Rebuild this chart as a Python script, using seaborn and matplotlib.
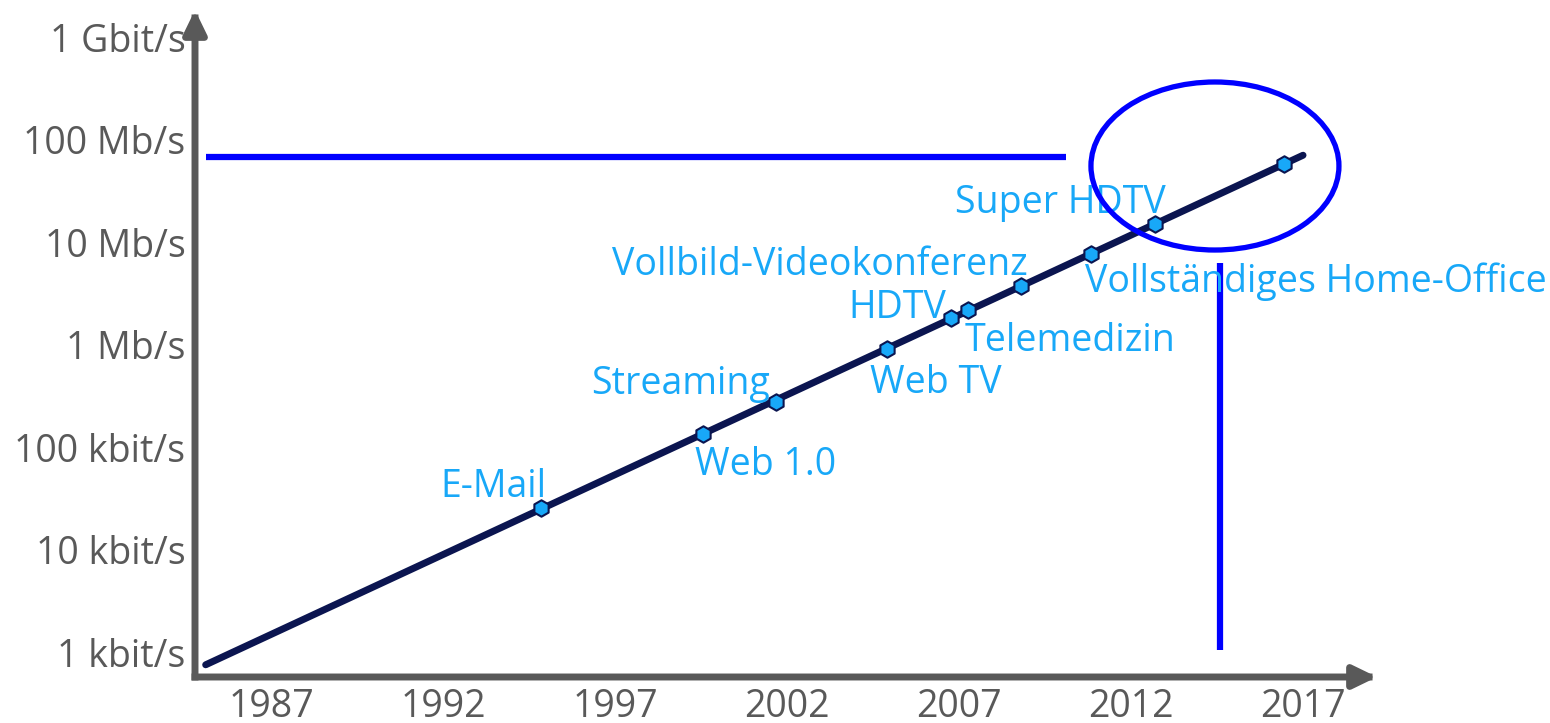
import matplotlib
matplotlib.use("Agg")
import matplotlib.pyplot as plt
from matplotlib.patches import Ellipse
import seaborn as sns
import pandas as pd

# ---- data ----
line_years = [1985.1, 2017.0]
line_rates = [0.75, 71000]          # kbit/s

milestone_years = [1994.85, 1999.56, 2001.68, 2004.91, 2006.77, 2007.26,
                   2008.80, 2010.84, 2012.70, 2016.45]
milestone_rates = [25.5, 135, 276, 910, 1830, 2190, 3750, 7700, 15100, 58300]
milestone_labels = ["E-Mail", "Web 1.0", "Streaming", "Web TV", "HDTV",
                    "Telemedizin", "Vollbild-Videokonferenz",
                    "Vollständiges Home-Office", "Super HDTV", ""]

x_ticks = [1987, 1992, 1997, 2002, 2007, 2012, 2017]
y_ticks = [1, 10, 100, 1e3, 1e4, 1e5, 1e6]
y_tick_labels = ["1 kbit/s", "10 kbit/s", "100 kbit/s", "1 Mb/s",
                 "10 Mb/s", "100 Mb/s", "1 Gbit/s"]

hline_years = [1985.1, 2010.1]
hline_rate = 68000
vline_year = 2014.6
vline_rates = [1.05, 6300]

# label offsets (pixels) from each point: left edge / vertical centre
label_offsets = [(-101, 21), (-8, -31), (-185, 18), (-17, -34), (-103, 10),
                 (-3, -31), (-409, 21), (-6, -28), (-200, 21), (0, 0)]

# ---- style ----
sns.set_theme(style="white")
plt.rcParams["font.family"] = ["Open Sans", "DejaVu Sans"]

AXIS_C = "#595959"
NAVY = "#0b1550"
LIGHT = "#18a8f8"
BLUE = "#0000ff"

fig = plt.figure(figsize=(15.5, 7.23), dpi=100)
W, H = 1550, 723
left, right, top, bottom = 195, 1377, 10, 677
ax = fig.add_axes([left / W, (H - bottom) / H, (right - left) / W, (bottom - top) / H])

df_line = pd.DataFrame({"year": line_years, "rate": line_rates})
df_pts = pd.DataFrame({"year": milestone_years, "rate": milestone_rates})

sns.lineplot(data=df_line, x="year", y="rate", ax=ax, color=NAVY, lw=5,
             solid_capstyle="round", zorder=3)
sns.scatterplot(data=df_pts, x="year", y="rate", ax=ax, marker="h", s=140,
                color=LIGHT, edgecolor=NAVY, linewidth=1.5, zorder=4)

ax.set_yscale("log")
ax.set_xlim(1984.79, 2019.15)
ax.set_ylim(0.570, 1.86e6)

ax.set_xticks(x_ticks)
ax.set_xticklabels([str(t) for t in x_ticks])
ax.set_yticks(y_ticks)
ax.set_yticklabels(y_tick_labels)
ax.minorticks_off()
ax.tick_params(axis="both", length=0, labelsize=27, labelcolor=AXIS_C)
ax.tick_params(axis="y", pad=7)
ax.tick_params(axis="x", pad=8)
ax.set_xlabel("")
ax.set_ylabel("")
for s in ax.spines.values():
    s.set_visible(False)
ax.grid(False)

# axis arrows
arrow_kw = dict(arrowstyle="-|>,head_length=0.7,head_width=0.34", color=AXIS_C,
                lw=5, mutation_scale=20, shrinkA=0, shrinkB=0,
                capstyle="projecting")
ax.annotate("", xy=(0, 1), xytext=(0, 0), xycoords="axes fraction",
            textcoords="axes fraction", arrowprops=arrow_kw, annotation_clip=False)
ax.annotate("", xy=(1, 0), xytext=(0, 0), xycoords="axes fraction",
            textcoords="axes fraction", arrowprops=arrow_kw, annotation_clip=False)

# labels
for x, y, lab, (dx, dy) in zip(milestone_years, milestone_rates,
                                milestone_labels, label_offsets):
    if lab:
        ax.annotate(lab, (x, y), xytext=(dx, dy), textcoords="offset pixels",
                    ha="left", va="center", fontsize=27, color=LIGHT, zorder=5)

# blue highlight lines and ellipse
ax.plot(hline_years, [hline_rate, hline_rate], color=BLUE, lw=4.5,
        solid_capstyle="butt", zorder=2)
ax.plot([vline_year, vline_year], vline_rates, color=BLUE, lw=4.5,
        solid_capstyle="butt", zorder=2)
ax.add_patch(Ellipse((0.8629, 0.7661), 0.2098, 0.2519, transform=ax.transAxes,
                     fill=False, edgecolor=BLUE, lw=3.8, zorder=6, clip_on=False))

fig.savefig("out.png", dpi=100)
